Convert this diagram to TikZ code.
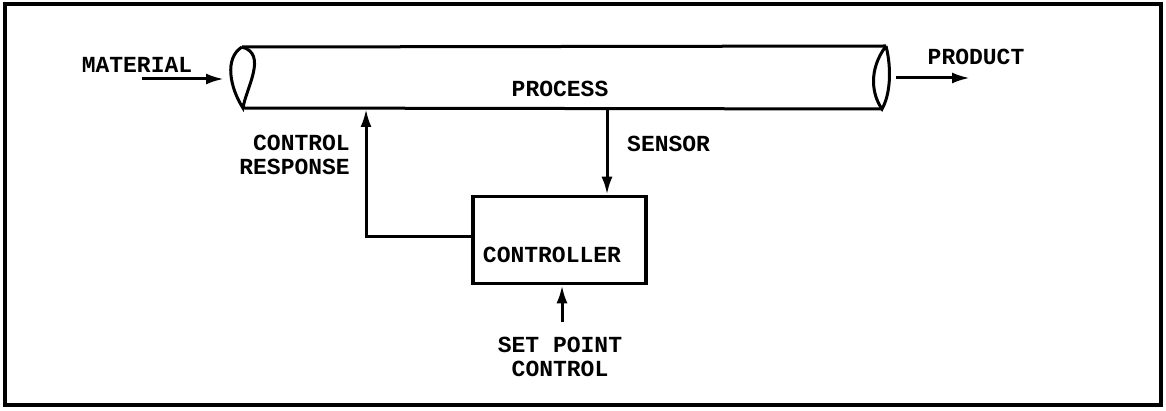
\documentclass[tikz,border=0pt]{standalone}
\usepackage{fontspec}
\newfontfamily\tw{Liberation Mono}
\usetikzlibrary{arrows.meta}
\tikzset{
  lbl/.style={font=\tw\bfseries\fontsize{23}{26}\selectfont, inner sep=0pt, align=center},
  line/.style={line width=3pt},
  arr/.style={line width=3pt, -{Latex[length=18pt,width=11pt]}},
  boxst/.style={draw, line width=3.6pt, minimum width=173pt, minimum height=87pt, inner sep=0pt}
}
\begin{document}
\begin{tikzpicture}[x=1pt,y=-1pt]
\useasboundingbox (0,0) rectangle (1166,411);
\draw[line width=4pt] (5,4) rectangle (1161,405);
% pipe
\coordinate (pTL) at (242,47);
\coordinate (pTR) at (886,46);
\coordinate (pBL) at (243,108);
\coordinate (pBR) at (882,109);
\draw[line] (pTL) -- (pTR);
\draw[line] (pBL) -- (pBR);
% left end loop (teardrop)
\draw[line] (pTL) .. controls (224,58) and (230,88) .. (pBL)
            .. controls (246,88) and (268,54) .. (pTL);
% right end lens
\draw[line] (pTR) .. controls (868,70) and (872,95) .. (pBR)
            .. controls (890,95) and (892,70) .. (pTR);
\node[lbl] (process) at (560,89) {PROCESS};
% material
\node[lbl] (material) at (137,65) {MATERIAL};
\coordinate (mA) at (142,79);
\coordinate (mB) at (224,79);
\draw[arr] (mA) -- (mB);
% product
\node[lbl] (product) at (976,57) {PRODUCT};
\coordinate (prA) at (896,78);
\coordinate (prB) at (970,78);
\draw[arr] (prA) -- (prB);
% controller
\node[boxst] (ctrl) at (559.5,240) {};
\node[lbl] (ctrltxt) at (552,255) {CONTROLLER};
% sensor
\coordinate (sTop) at (607,109);
\draw[arr] (sTop) -- (sTop |- ctrl.north);
\node[lbl, anchor=west] (sensor) at (627,144) {SENSOR};
% control response
\coordinate (rA) at (ctrl.west |- 0,237);
\coordinate (rCorner) at (366,237);
\coordinate (rTop) at (366,109);
\draw[arr] (rA) -- (rCorner) -- (rTop);
\node[lbl, anchor=east, align=right] (resp) at (350,155) {CONTROL\\[-2pt]RESPONSE};
% set point
\coordinate (spA) at (562,322);
\draw[arr] (spA) -- (spA |- ctrl.south);
\node[lbl] (setpt) at (560,357) {SET POINT\\[-2pt]CONTROL};
\end{tikzpicture}
\end{document}
